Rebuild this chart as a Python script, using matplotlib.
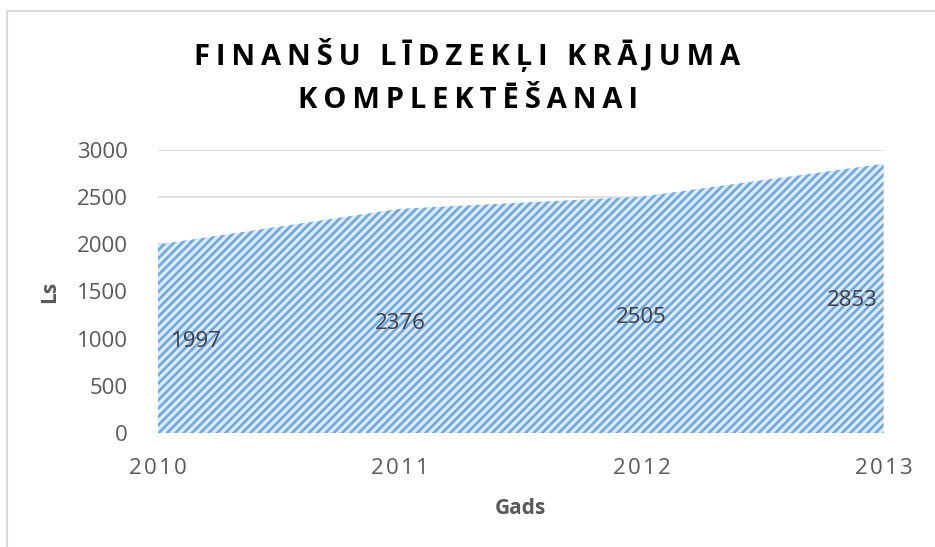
import matplotlib
matplotlib.use('Agg')
import matplotlib.pyplot as plt

years = [2010, 2011, 2012, 2013]
values = [1997, 2376, 2505, 2853]
title_lines = ['FINANŠU LĪDZEKĻI KRĀJUMA', 'KOMPLEKTĒŠANAI']

FAM = ['Open Sans', 'DejaVu Sans']
plt.rcParams['font.family'] = FAM
plt.rcParams['hatch.color'] = '#70a7dd'
plt.rcParams['hatch.linewidth'] = 1.9


def spaced(s, sp='\u200a'):
    return sp.join(s)


fig = plt.figure(figsize=(9.35, 5.47), dpi=100)
ax = fig.add_axes([0.169, 0.2084, 0.776, 0.5174])

ax.fill_between(years, values, 0, facecolor='#dce9f7', edgecolor='#70a7dd',
                linewidth=0, hatch='////', zorder=2)

ax.set_xlim(2010, 2013)
ax.set_ylim(0, 3000)
ax.set_yticks(range(0, 3001, 500))
ax.set_xticks(years)
ax.set_xticklabels([spaced(str(y)) for y in years])
ax.grid(axis='y', color='#d9d9d9', linewidth=1.2, zorder=0)
for s in ax.spines.values():
    s.set_visible(False)
ax.tick_params(length=0, labelsize=16, labelcolor='#595959')
ax.tick_params(axis='x', pad=18)
ax.tick_params(axis='y', pad=22)

# data labels at half height like the original
offs = [0.16, 0, 0, -0.13]
for x, v, o in zip(years, values, offs):
    ax.text(x + o, v / 2, str(v), ha='center', va='center_baseline',
            fontsize=16, color='#404040', zorder=3)

ax.set_xlabel('Gads', fontsize=15, fontweight='bold', color='#595959', labelpad=14)
ax.set_ylabel('Ls', fontsize=15, fontweight='bold', color='#595959', labelpad=12)

fig.text(0.5, 1 - 55 / 547, spaced(title_lines[0], '\u2009'), ha='center', va='center',
         fontsize=21, fontweight='bold', color='black')
fig.text(0.5, 1 - 100 / 547, spaced(title_lines[1], '\u2009'), ha='center', va='center',
         fontsize=21, fontweight='bold', color='black')

# outer chart border (top and left visible in the crop)
fig.add_artist(plt.Line2D([7 / 935, 7 / 935], [0, 1 - 11 / 547], color='#d9d9d9', lw=1.5))
fig.add_artist(plt.Line2D([7 / 935, 1], [1 - 11 / 547, 1 - 11 / 547], color='#d9d9d9', lw=1.5))

fig.savefig('out.png', dpi=100)
